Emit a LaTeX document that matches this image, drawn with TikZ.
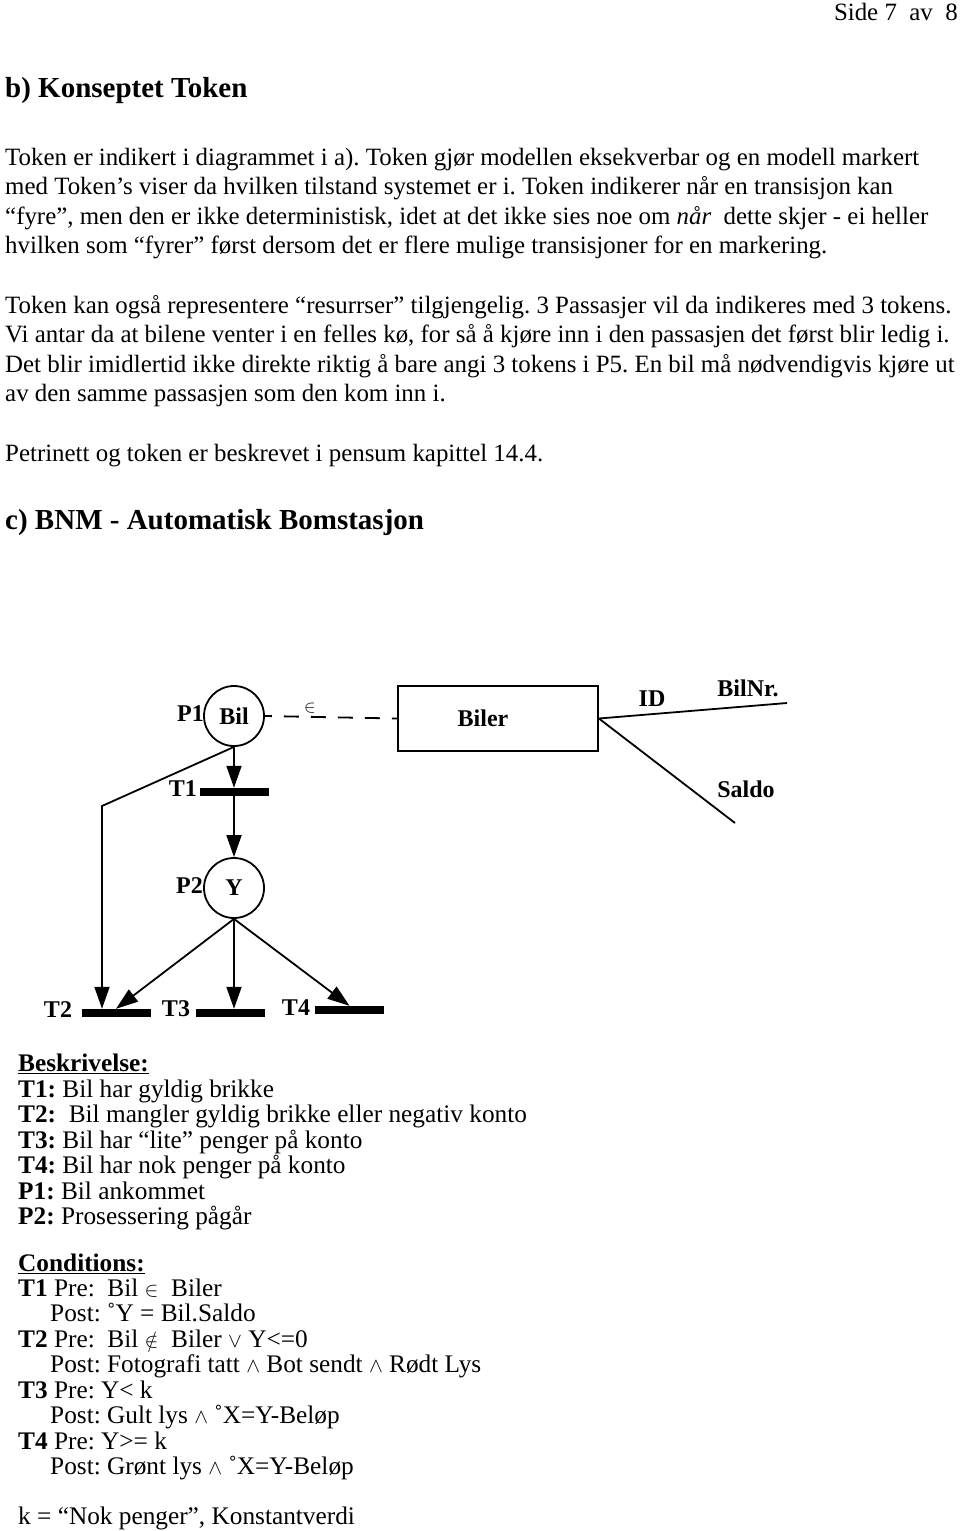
\documentclass[tikz,border=0pt]{standalone}
\usepackage{fontspec}
\setmainfont{Liberation Serif}
\usetikzlibrary{arrows.meta}
\newcommand{\smsym}[1]{{\fontsize{20}{20}\selectfont$#1$}}
\begin{document}
\frenchspacing
\begin{tikzpicture}[x=1pt,y=-1pt,
  txt/.style={anchor=base west,inner sep=0pt,font=\fontsize{24.9}{29}\selectfont},
  ltxt/.style={anchor=base west,inner sep=0pt,font=\fontsize{25.3}{29}\selectfont},
  head/.style={anchor=base west,inner sep=0pt,font=\bfseries\fontsize{29}{32}\selectfont},
  place/.style={circle,draw,line width=1.8pt,minimum size=60pt,inner sep=0pt,font=\bfseries\fontsize{24}{24}\selectfont},
  trans/.style={rectangle,fill=black,minimum width=69pt,minimum height=8pt,inner sep=0pt},
  lbl/.style={inner sep=0pt,font=\bfseries\fontsize{24}{24}\selectfont},
  conn/.style={line width=1.8pt},
  arr/.style={line width=1.8pt,-{Triangle[length=22pt,width=15pt]}}
]
\useasboundingbox[fill=white] (0,0) rectangle (960,1531);

% header and text
\node[txt,anchor=base east] (side) at (958,20) {Side 7\ \ av\ \ 8};
\node[head] (hb) at (5,97) {b) Konseptet Token};
\node[txt] (p1a) at (5,165) {Token er indikert i diagrammet i a). Token gjør modellen eksekverbar og en modell markert};
\node[txt] (p1b) at (5,194.5) {med Token’s viser da hvilken tilstand systemet er i. Token indikerer når en transisjon kan};
\node[txt] (p1c) at (5,224) {“fyre”, men den er ikke deterministisk, idet at det ikke sies noe om \textit{når}\ \ dette skjer - ei heller};
\node[txt] (p1d) at (5,253.5) {hvilken som “fyrer” først dersom det er flere mulige transisjoner for en markering.};
\node[txt] (p2a) at (5,313) {Token kan også representere “resurrser” tilgjengelig. 3 Passasjer vil da indikeres med 3 tokens.};
\node[txt] (p2b) at (5,342.5) {Vi antar da at bilene venter i en felles kø, for så å kjøre inn i den passasjen det først blir ledig i.};
\node[txt] (p2c) at (5,372) {Det blir imidlertid ikke direkte riktig å bare angi 3 tokens i P5. En bil må nødvendigvis kjøre ut};
\node[txt] (p2d) at (5,401.5) {av den samme passasjen som den kom inn i.};
\node[txt] (p3) at (5,461) {Petrinett og token er beskrevet i pensum kapittel 14.4.};
\node[head] (hc) at (5,529) {c) BNM - Automatisk Bomstasjon};

% diagram
\node[place] (P1) at (234,716) {Bil};
\node[lbl,anchor=east] (P1l) at (204,714) {P1};
\node[draw,line width=1.8pt,minimum width=200pt,minimum height=65pt,inner sep=0pt] (Biler) at (498,718.5) {};
\node[lbl] (BilerL) at (483,718) {Biler};
\draw[conn,dash pattern=on 15pt off 12pt,dash phase=8pt] (P1.east) -- (Biler.west);
\node[inner sep=0pt,font=\fontsize{17}{17}\selectfont] (elem) at (310,708) {$\in$};
\coordinate (idend) at (787,703);
\coordinate (saldoend) at (735,823);
\draw[conn] (Biler.east) -- (idend);
\draw[conn] (Biler.east) -- (saldoend);
\node[lbl] (ID) at (652,699) {ID};
\node[lbl] (BilNr) at (748,688) {BilNr.};
\node[lbl] (Saldo) at (746,789) {Saldo};

\node[trans] (T1) at (234,792) {};
\node[lbl,anchor=east] (T1l) at (197,789) {T1};
\node[place] (P2) at (234,888) {Y};
\node[lbl,anchor=east] (P2l) at (203,886) {P2};

\node[trans] (T2) at (116,1013) {};
\node[trans] (T3) at (230,1013) {};
\node[trans] (T4) at (349.5,1010) {};
\node[lbl] (T2l) at (58,1010) {T2};
\node[lbl] (T3l) at (176,1009) {T3};
\node[lbl] (T4l) at (296,1008) {T4};

\coordinate (kink) at (102,806);
\draw[arr] (P1.south) -- (T1.north);
\draw[arr] (T1.south) -- (P2.north);
\draw[arr] (P1.south) -- (kink) -- (kink |- T2.north);
\draw[arr] (P2.south) -- (T2.north);
\draw[arr] (P2.south) -- (P2.south |- T3.north);
\draw[arr] (P2.south) -- (T4.north);

% description
\node[ltxt] (b0) at (18,1071) {\underline{\textbf{Beskrivelse:}}};
\node[ltxt] (b1) at (18,1097) {\textbf{T1:} Bil har gyldig brikke};
\node[ltxt] (b2) at (18,1122.5) {\textbf{T2:}\ \ Bil mangler gyldig brikke eller negativ konto};
\node[ltxt] (b3) at (18,1148) {\textbf{T3:} Bil har “lite” penger på konto};
\node[ltxt] (b4) at (18,1173.5) {\textbf{T4:} Bil har nok penger på konto};
\node[ltxt] (b5) at (18,1199) {\textbf{P1:} Bil ankommet};
\node[ltxt] (b6) at (18,1224.5) {\textbf{P2:} Prosessering pågår};

\node[ltxt] (c0) at (18,1271) {\underline{\textbf{Conditions:}}};
\node[ltxt] (c1) at (18,1296) {\textbf{T1} Pre:\ \ Bil \smsym{\in}\ \ Biler};
\node[ltxt] (c2) at (50,1321.5) {Post: ˚Y = Bil.Saldo};
\node[ltxt] (c3) at (18,1347) {\textbf{T2} Pre:\ \ Bil \smsym{\notin}\ \ Biler \smsym{\vee} Y<=0};
\node[ltxt] (c4) at (50,1372.5) {Post: Fotografi tatt \smsym{\wedge} Bot sendt \smsym{\wedge} Rødt Lys};
\node[ltxt] (c5) at (18,1398) {\textbf{T3} Pre: Y< k};
\node[ltxt] (c6) at (50,1423.5) {Post: Gult lys \smsym{\wedge} ˚X=Y-Beløp};
\node[ltxt] (c7) at (18,1449) {\textbf{T4} Pre: Y>= k};
\node[ltxt] (c8) at (50,1474.5) {Post: Grønt lys \smsym{\wedge} ˚X=Y-Beløp};
\node[ltxt] (c9) at (18,1524) {k = “Nok penger”, Konstantverdi};
\end{tikzpicture}
\end{document}
